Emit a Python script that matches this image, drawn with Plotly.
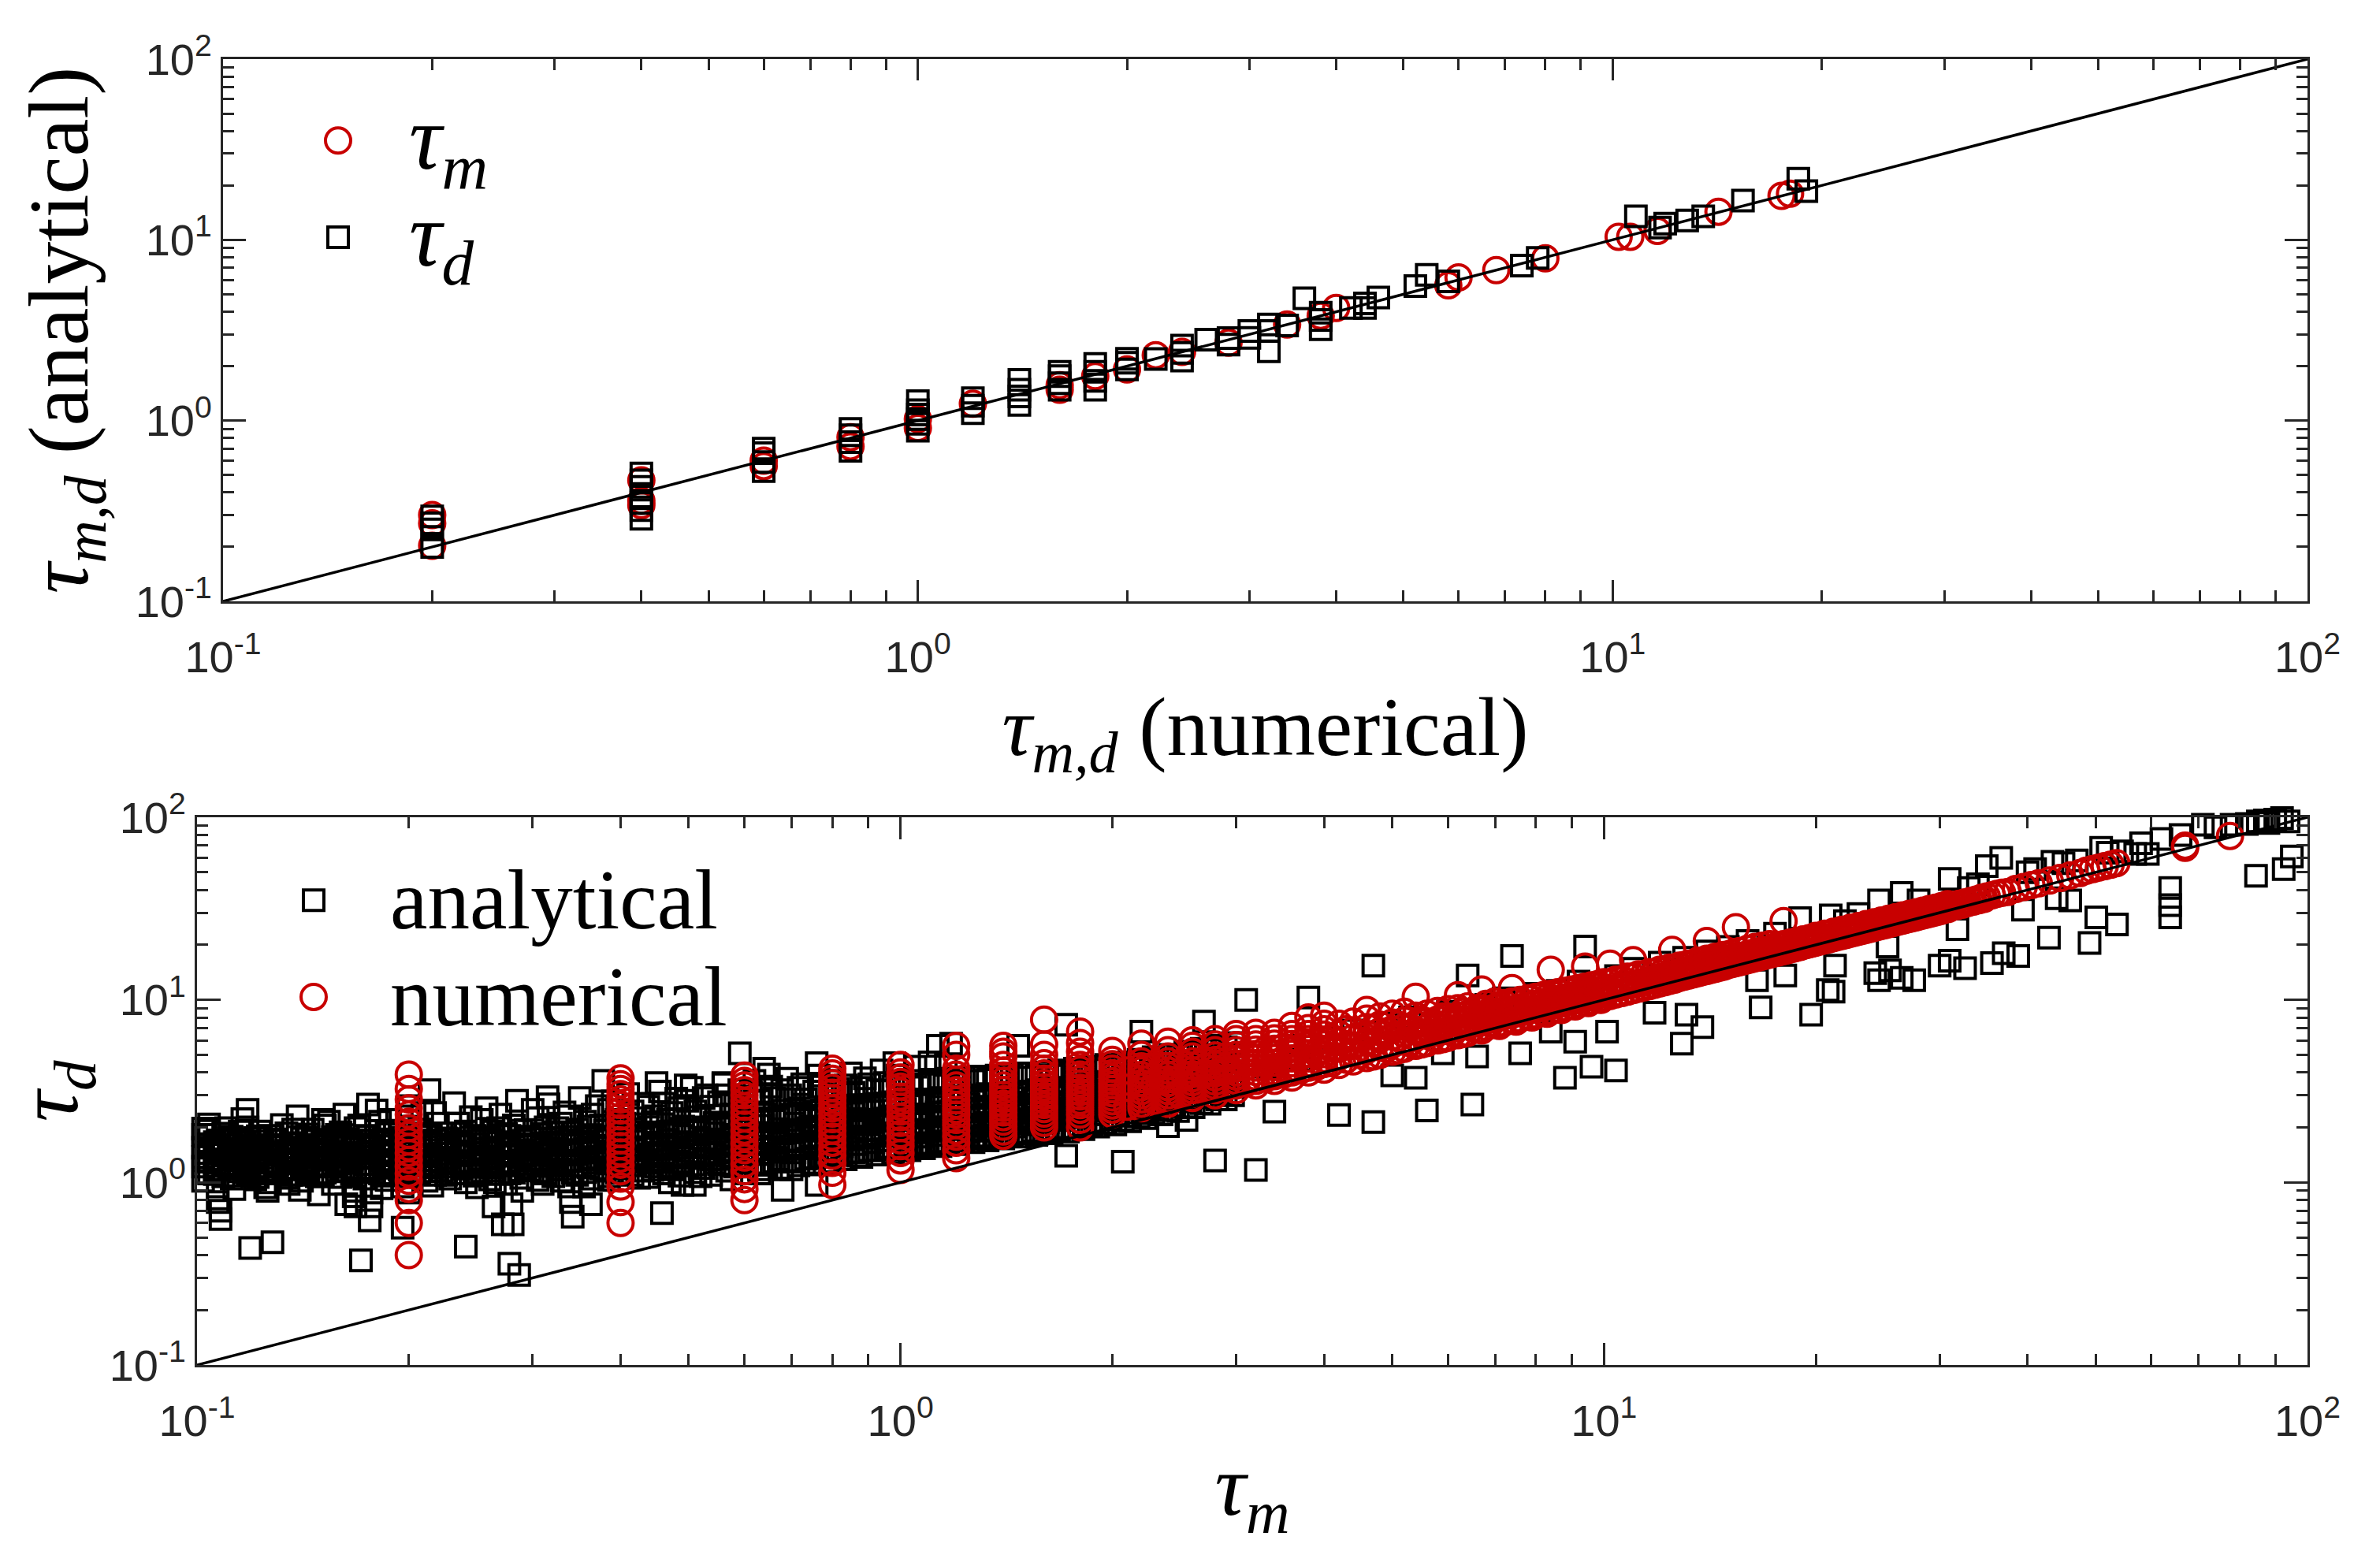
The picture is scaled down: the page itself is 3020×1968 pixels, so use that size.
import plotly.graph_objects as go

W, H = 3020, 1968
RED = "#C80000"
INK = "#262626"

major_ticks = [0.1, 1, 10, 100]
major_text = ["10<sup>-1</sup>", "10<sup>0</sup>", "10<sup>1</sup>", "10<sup>2</sup>"]
minor_ticks = [0.2, 0.3, 0.4, 0.5, 0.6, 0.7, 0.8, 0.9, 2, 3, 4, 5, 6, 7, 8, 9,
               20, 30, 40, 50, 60, 70, 80, 90]
diag = [0.1, 100]

# ---- top panel ----
top_m_x = [0.2, 0.2, 0.2, 0.4, 0.4, 0.4, 0.6, 0.6, 0.8, 0.8, 1, 1, 1.2, 1.6, 1.6, 1.8, 2, 2.2, 2.4, 2.8,
           3.4, 3.8, 4, 5.8, 6, 6.8, 8, 10.2, 10.6, 11.6, 14.2, 17.5, 18]
top_m_y = [0.3, 0.27, 0.203, 0.467, 0.36, 0.34, 0.6, 0.56, 0.81, 0.72, 0.91, 1.02, 1.24, 1.57, 1.48, 1.76, 1.92, 2.3, 2.4, 2.7,
           3.4, 3.8, 4.2, 5.6, 6.2, 6.8, 7.9, 10.4, 10.4, 11.2, 14.3, 17.5, 18]
top_d_x = [0.2, 0.2, 0.2, 0.2, 0.4, 0.4, 0.4, 0.4, 0.4, 0.4, 0.4, 0.6, 0.6, 0.6, 0.6, 0.8, 0.8, 0.8, 0.8,
           1, 1, 1, 1, 1, 1, 1.2, 1.2, 1.2, 1.4, 1.4, 1.4, 1.4, 1.6, 1.6, 1.6, 1.6, 1.8, 1.8, 1.8, 1.8,
           2, 2, 2, 2.2, 2.4, 2.4, 2.4, 2.6, 2.8, 2.8, 3, 3, 3.2, 3.2, 3.2, 3.4, 3.6, 3.8, 3.8, 3.8,
           4.2, 4.4, 4.4, 4.6, 5.2, 5.4, 5.8, 7.4, 7.8, 10.8, 11.7, 11.9, 12.8, 13.5, 15.4, 18.5, 19]
top_d_y = [0.295, 0.27, 0.25, 0.2, 0.51, 0.467, 0.43, 0.38, 0.35, 0.32, 0.286, 0.7, 0.66, 0.59, 0.525, 0.9, 0.83, 0.76, 0.68,
           1.28, 1.14, 1.08, 1.02, 0.96, 0.88, 1.33, 1.21, 1.1, 1.68, 1.48, 1.36, 1.22, 1.86, 1.76, 1.61, 1.48, 2.06, 1.86, 1.66, 1.48,
           2.2, 2.09, 1.92, 2.19, 2.6, 2.37, 2.15, 2.8, 2.86, 2.63, 3.13, 2.87, 3.4, 2.42, 3.13, 3.36, 4.75, 3.95, 3.6, 3.2,
           4.2, 4.45, 4.2, 4.8, 5.55, 6.4, 5.9, 7.2, 7.95, 13.5, 11.7, 12.3, 12.8, 13.5, 16.5, 21.8, 18.6]

# ---- bottom panel: analytical squares, dense band read column by column ----
band_x = [.102,.104,.107,.109,.112,.115,.118,.121,.124,.127,.130,.134,.137,.141,.144,.148,.152,.156,.160,.164,.168,.173,.177,.182,.186,.191,.196,.201,.207,.212,.218,.223,.229,.235,.241,.248,.254,.261,.268,.275,.282,.289,.297,.305,.313,.321,.329,.338,.347,.356,.365,.375,.385,.395,.405,.416,.427,.438,.449,.461,.473,.485,.498,.511,.525,.538,.552,.567,.582,.597,.613,.629,.645,.662,.679,.697,.716,.734,.754,.773,.794,.815,.836,.858,.880,.903,.927,.951,.976,1.00,1.03,1.06,1.08,1.11,1.14,1.17,1.20,1.23,1.27,1.30,1.33,1.37,1.40,1.44,1.48,1.52,1.56,1.60,1.64,1.68,1.73,1.77,1.82,1.87,1.91,1.96,2.02,2.07,2.12,2.18,2.23,2.29,2.35,2.42,2.48,2.54,2.61,2.68,2.75,2.82,2.90,2.97]
band_y = [
[1.02,1.22,1.38,1.55,1.82],[1.12,1.3,1.45,1.62,1.92],[.95,1.18,1.34,1.5,1.7],[1.08,1.26,1.42,1.6,1.85],[1.05,1.2,1.37,1.48,1.78],[1.15,1.32,1.5,1.66,1.9],
[1.1,1.24,1.4,1.58,2.0],[1.04,1.28,1.44,1.55,1.75],[1.12,1.22,1.36,1.52,1.68],[1.0,1.3,1.46,1.6,1.8],[1.14,1.26,1.41,1.57,1.72],[1.06,1.2,1.35,1.49,1.86],
[1.1,1.31,1.47,1.63,1.95],[1.02,1.25,1.39,1.54,1.74],[1.16,1.29,1.43,1.61,1.83],[1.08,1.22,1.37,1.52,1.69],[1.13,1.33,1.48,1.65,2.05],[.98,1.24,1.4,1.56,1.77],
[1.07,1.27,1.42,1.59,1.88],[1.15,1.3,1.45,1.62,1.73],[.9,1.21,1.36,1.53,1.98],[1.05,1.26,1.44,1.6,1.8],[.88,1.18,1.38,1.55,1.7],[1.12,1.32,1.49,1.66,2.15],
[1.03,1.23,1.41,1.58,1.84],[1.1,1.28,1.46,1.64,1.92],[.95,1.2,1.35,1.52,1.76],[1.08,1.3,1.47,1.67,2.3],[1.14,1.26,1.43,1.6,1.95],[1.02,1.24,1.39,1.56,1.78],
[1.1,1.33,1.5,1.7,2.4],[1.16,1.29,1.44,1.62,1.86],[1.05,1.22,1.37,1.54,1.73],[1.12,1.31,1.48,1.66,2.1],[1.0,1.27,1.42,1.58,1.9],[1.09,1.25,1.45,1.63,1.8],
[1.15,1.34,1.51,1.72,2.2],[1.04,1.21,1.38,1.55,1.75],[1.11,1.28,1.46,1.65,1.98],[.98,1.3,1.43,1.6,1.84],[1.13,1.24,1.4,1.57,2.05],[1.06,1.32,1.5,1.69,1.92],
[1.17,1.27,1.44,1.62,1.78],[1.03,1.23,1.41,1.59,2.25],[1.12,1.35,1.52,1.73,2.0],[1.08,1.29,1.47,1.66,1.88],[1.18,1.26,1.42,1.61,2.1],[.95,1.31,1.49,1.7,2.3],
[1.1,1.24,1.45,1.64,1.95],[1.14,1.33,1.53,1.75,2.15],[1.05,1.28,1.46,1.68,2.35],[1.19,1.36,1.55,1.78,2.05],[1.08,1.27,1.48,1.71,2.5],[1.13,1.32,1.52,1.74,2.2],
[1.2,1.38,1.58,1.82,2.1],[1.1,1.3,1.5,1.76,2.45],[1.16,1.35,1.56,1.8,2.25],[1.07,1.28,1.53,1.85,2.6],[1.22,1.4,1.6,1.88,2.3],[1.12,1.33,1.57,1.83,2.7],
[1.18,1.37,1.62,1.9,2.4],[1.09,1.3,1.55,1.86,2.55],[1.24,1.42,1.66,1.95,2.8],[1.14,1.36,1.6,1.92,2.45],[1.2,1.44,1.7,2.0,2.9],[1.1,1.34,1.58,1.96,2.6],
[1.26,1.46,1.72,2.05,2.75],[1.16,1.4,1.65,2.0,3.0],[1.22,1.48,1.76,2.1,2.65],[1.12,1.38,1.68,2.06,2.95],[1.28,1.5,1.8,2.15,3.1],[1.18,1.43,1.74,2.2,2.8],
[1.25,1.52,1.84,2.25,3.05],[1.3,1.56,1.78,2.18,2.9],[1.2,1.47,1.86,2.3,3.2],[1.32,1.58,1.9,2.35,3.0],[1.24,1.54,1.94,2.4,3.3],[1.35,1.6,1.98,2.28,2.85],
[1.28,1.62,1.92,2.45,3.15],[1.38,1.66,2.0,2.5,3.35],[1.3,1.7,2.05,2.4,3.0],[1.42,1.68,2.1,2.55,3.25],[1.34,1.74,2.02,2.6,3.4],[1.46,1.72,2.12,2.48,3.1],
[1.38,1.78,2.16,2.65,3.3],[1.5,1.76,2.08,2.58,3.45],[1.42,1.82,2.2,2.7,3.2],[1.52,1.8,2.24,2.62,3.5],[1.46,1.86,2.18,2.75,3.35],[1.55,1.84,2.28,2.68,3.55],
[1.5,1.9,2.32,2.8,3.4],[1.58,1.88,2.26,2.72,3.6],[1.54,1.94,2.36,2.85,3.45],[1.62,1.92,2.3,2.78,3.65],[1.58,1.98,2.4,2.9,3.5],[1.66,1.96,2.44,2.82,3.7],
[1.62,2.02,2.38,2.95,3.55],[1.7,2.0,2.48,2.88,3.75],[1.66,2.06,2.52,3.0,3.6],[1.74,2.04,2.46,2.92,3.8],[1.7,2.1,2.56,3.05,3.65],[1.78,2.08,2.5,2.98,3.85],
[1.74,2.14,2.6,3.1,3.7],[1.82,2.12,2.54,3.02,3.9],[1.78,2.18,2.64,3.15,3.75],[1.86,2.16,2.58,3.08,3.95],[1.82,2.22,2.68,3.2,3.8],[1.9,2.2,2.62,3.12,4.0],
[1.86,2.26,2.72,3.25,3.85],[1.94,2.3,2.76,3.3,4.1],[1.9,2.34,2.7,3.22,3.95],[2.0,2.38,2.8,3.35,4.2],[1.96,2.42,2.86,3.4,4.05],[2.05,2.46,2.92,3.45,4.3],
[2.02,2.5,2.98,3.5,4.15],[2.12,2.55,3.02,3.55,4.4],[2.08,2.6,3.08,3.62,4.25],[2.2,2.64,3.14,3.7,4.55],[2.16,2.7,3.2,3.76,4.4],[2.3,2.76,3.26,3.84,4.7],
[2.25,2.82,3.34,3.92,4.55],[2.4,2.88,3.4,4.0,4.85],[2.36,2.95,3.48,4.1,4.7],[2.5,3.02,3.55,4.2,5.0],[2.46,3.1,3.62,4.3,4.9],[2.6,3.16,3.7,4.4,5.2],
[2.58,3.24,3.8,4.5,5.1],[2.72,3.3,3.9,4.6,5.4],[2.7,3.4,4.0,4.72,5.3],[2.85,3.48,4.1,4.85,5.6],[2.85,3.56,4.2,4.95,5.5],[3.0,3.65,4.3,5.05,5.8],
]
# second pass through the same band, filling the black core
core_x = [.106,.111,.117,.122,.129,.136,.143,.151,.158,.166,.175,.184,.194,.204,.215,.226,.238,.251,.264,.278,.293,.309,.325,.342,.36,.38,.4,.42,.444,.467,.491,.518,.544,.574,.605,.638,.671,.707,.744,.784,.826,.869,.915,.965,1.015,1.07,1.125,1.185,1.25,1.315,1.385,1.46,1.54,1.62,1.705,1.795,1.89,1.99,2.1,2.21,2.32,2.45,2.58,2.72,2.86]
core_y = [
[1.11,1.16,1.28,1.44,1.58,1.66],[1.09,1.24,1.33,1.47,1.53,1.74],[1.14,1.19,1.31,1.39,1.56,1.67],[1.07,1.21,1.35,1.42,1.51,1.79],[1.17,1.23,1.29,1.46,1.59,1.7],[1.1,1.27,1.34,1.41,1.55,1.64],
[1.13,1.18,1.32,1.45,1.57,1.76],[1.08,1.25,1.36,1.43,1.5,1.71],[1.16,1.22,1.3,1.47,1.61,1.82],[1.11,1.28,1.33,1.4,1.54,1.68],[1.14,1.2,1.37,1.48,1.63,1.78],[1.09,1.26,1.31,1.44,1.58,1.72],
[1.18,1.24,1.34,1.46,1.6,1.87],[1.12,1.29,1.38,1.49,1.55,1.69],[1.15,1.21,1.32,1.42,1.65,1.8],[1.1,1.27,1.36,1.51,1.59,1.74],[1.19,1.23,1.41,1.47,1.68,1.85],[1.13,1.3,1.35,1.53,1.62,1.77],
[1.16,1.25,1.39,1.48,1.7,1.9],[1.12,1.28,1.43,1.54,1.66,1.8],[1.2,1.34,1.4,1.58,1.72,1.94],[1.15,1.29,1.46,1.56,1.64,1.84],[1.18,1.24,1.37,1.52,1.75,1.98],[1.13,1.31,1.44,1.6,1.7,1.88],
[1.21,1.36,1.5,1.62,1.78,2.02],[1.16,1.3,1.42,1.57,1.73,1.92],[1.19,1.34,1.47,1.65,1.82,2.08],[1.24,1.38,1.52,1.68,1.76,1.96],[1.17,1.32,1.45,1.6,1.85,2.14],[1.22,1.4,1.55,1.71,1.9,2.2],
[1.26,1.37,1.49,1.64,1.8,2.02],[1.2,1.42,1.58,1.74,1.93,2.28],[1.28,1.44,1.54,1.67,1.86,2.12],[1.24,1.39,1.62,1.78,1.98,2.36],[1.31,1.47,1.6,1.72,1.91,2.18],[1.27,1.43,1.66,1.82,2.04,2.42],
[1.34,1.5,1.64,1.76,1.96,2.24],[1.3,1.46,1.7,1.88,2.1,2.5],[1.37,1.54,1.68,1.8,2.02,2.32],[1.4,1.52,1.74,1.92,2.16,2.56],[1.44,1.58,1.72,1.86,2.08,2.38],[1.47,1.62,1.78,1.98,2.22,2.64],
[1.5,1.66,1.82,1.94,2.14,2.44],[1.56,1.7,1.86,2.04,2.3,2.7],[1.6,1.74,1.9,2.0,2.2,2.52],[1.64,1.78,1.94,2.1,2.36,2.76],[1.68,1.82,1.98,2.16,2.42,2.6],[1.72,1.86,2.02,2.22,2.48,2.84],
[1.76,1.9,2.06,2.28,2.54,2.68],[1.8,1.94,2.12,2.34,2.6,2.9],[1.84,1.98,2.18,2.4,2.66,2.96],[1.88,2.02,2.22,2.46,2.74,3.04],[1.92,2.08,2.28,2.52,2.8,3.1],[1.96,2.14,2.34,2.58,2.86,3.18],
[2.0,2.2,2.42,2.66,2.94,3.26],[2.06,2.28,2.5,2.74,3.0,3.34],[2.14,2.36,2.58,2.82,3.1,3.42],[2.22,2.44,2.66,2.9,3.2,3.52],[2.32,2.52,2.74,3.0,3.3,3.64],[2.42,2.62,2.84,3.12,3.42,3.76],
[2.52,2.72,2.96,3.24,3.56,3.9],[2.64,2.84,3.08,3.38,3.7,4.06],[2.78,2.98,3.22,3.52,3.84,4.22],[2.92,3.12,3.38,3.68,4.02,4.4],[3.06,3.28,3.54,3.84,4.2,4.6],
]
# individual squares off the band
off_x = [.119,.128,.171,.241,.278,.287,.196,.176,.108,.108,.107,.458,.272,.281,.264,.28,.342,.34,.363,.49,.51,.68,.76,.163,.168,.177,.14,.125,
         .591,.64,.76,.98,.378,.315,.214,.118,.102,.175,.151,.45,.495,.56,.65,1.13,1.18,1.47,1.72,2.07,2.8,3.2,3.4,4.2,4.7,5.6,6.5,
         2.4,2.55,5,5.4,5.9,6.6,7.6,8.8,9.6,10.4,8.4,9.1,10.1,11.8,12.9,13.1,13.8,16.5,16.7,18.1,19.7,20.8,21.2,21.3,24.3,24.6,25.5,26.5,27.6,
         30,31,32.6,35.6,37,38.8,42.9,44,46,49,50.1,53.6,63.8,63.8,63.8,84.5,92.5,95,
         2.2,2.7,1.72,3.1,3.8,4.7,6.4,7.4,9.4,19,21,24.6,26.5,31,31.8,25.3,35,36.7,39.4,43.4,50.9,54.5,56.9,59.3,71,78,
         3.4,3.6,4,4.4,4.9,5.3,6,6.8,7.2,8,8.6,9.2,10.4,11,12,13,14,15,16,17.5,22,23,28,33,34,40,41,45,47,52,58,62,66,74,82,85,87,88,90,92,94]
off_y = [.437,.47,.374,.445,.359,.311,.565,.62,.63,.7,.78,.68,.59,.59,.74,.76,.65,.78,.76,.97,.97,.91,.97,.76,.74,.74,.91,.94,
         5.1,4.2,4.5,4.5,3.6,2.93,3.2,2.5,1.97,2.67,2.2,3.5,3.4,3.5,3.9,5.6,5.75,5.6,1.4,1.3,1.32,1.17,2.44,2.34,2.14,2.48,2.67,
         2.03,2.2,3.86,3.74,5.1,4.9,5.1,3.74,4.3,4.1,6.7,5.9,6.7,8.5,5.75,8.3,7.1,12.8,9.1,13.6,8.3,11.3,11.1,15.4,14,12.8,14.5,13.2,12.8,
         15.4,16.4,14.9,15.9,18,17.4,21.9,36,35,20.5,28.3,25.9,41,33,28.3,47.8,52,61,
         6.7,7.6,7.3,10,10.3,15.4,13.6,17.4,19.6,28,29,35,38.5,46,24.4,19.6,54,60,31.2,57,68,65,63,63,91,91,
         5.2,5.6,6.2,6.8,7.4,8.0,8.6,9.4,10.2,10.8,11.2,12.6,13.5,14.8,16,17,18.4,19.5,21,23,27,29.5,35,41,43,50,52,56,58,64,72,76,80,88,92,95,96,93,97,99,95]
# squares scattered along the upper and lower edges of the band
edge_x = [.104,.11,.116,.123,.132,.139,.146,.154,.162,.17,.18,.188,.2,.209,.22,.232,.245,.258,.27,.285,.3,.316,.333,.35,.37,.39,.41,.43,.455,.48,.505,.53,.56,.59,.62,.655,.69,.725,.765,.805,.85,.89,.94,.99,1.05,1.1,1.16,
          .113,.126,.135,.149,.167,.183,.2,.216,.25,.265,.29,.31,.33,.355,.385,.425,.47,.52,.575,.63,.7,.78,.87,.96,1.09,1.22,1.35,1.5,1.7,1.92,2.15,2.4,2.65,2.95,3.3,3.7,4.1,4.5]
edge_y = [2.08,1.98,2.22,1.9,2.06,2.3,1.95,2.15,2.35,2.05,2.48,2.2,2.62,2.4,2.1,2.72,2.28,2.55,2.35,2.8,2.5,2.68,2.42,2.9,2.62,2.78,3.05,2.7,3.15,2.88,3.3,3.0,3.45,3.2,3.6,3.35,3.7,3.45,3.85,3.6,3.95,3.72,4.1,3.85,4.3,4.55,4.4,
          .92,.9,.98,.86,.84,.93,.88,.96,.94,1.0,.9,.98,1.02,.95,1.03,1.06,1.0,1.08,1.04,1.12,1.18,1.26,1.4,1.52,1.62,1.78,1.92,2.1,2.3,2.55,2.8,3.1,3.45,3.9,4.3,4.7]

# ---- bottom panel: numerical circles, columns at the sampled tau_m values ----
num_col_x = [.2,.4,.6,.8,1.0,1.2,1.4,1.6,1.8,2.0,2.2,2.4,2.6,2.8,3.0,3.2,3.4,3.6,3.8,4.0]
num_col_y = [
[.40,.60,.80,.92,1.02,1.12,1.22,1.33,1.45,1.56,1.68,1.82,1.98,2.15,2.35,2.55,2.85,3.25,3.9],
[.60,.78,.95,1.05,1.15,1.25,1.35,1.46,1.58,1.7,1.84,1.98,2.14,2.3,2.48,2.66,2.85,3.05,3.25,3.45,3.72],
[.80,.92,1.04,1.15,1.26,1.37,1.5,1.63,1.77,1.92,2.08,2.25,2.42,2.6,2.8,3.0,3.2,3.4,3.6,3.85],
[.97,1.13,1.28,1.4,1.52,1.65,1.78,1.92,2.06,2.22,2.38,2.55,2.72,2.9,3.1,3.3,3.5,3.7,3.95,4.2],
[1.17,1.32,1.45,1.58,1.7,1.84,1.98,2.12,2.28,2.44,2.6,2.78,2.95,3.15,3.35,3.55,3.75,4.0,4.4],
[1.36,1.5,1.65,1.78,1.92,2.06,2.2,2.35,2.5,2.66,2.82,3.0,3.2,3.4,3.65,3.9,4.2,5.0,5.6],
[1.8,1.9,2.02,2.15,2.28,2.42,2.56,2.7,2.86,3.02,3.2,3.4,3.6,3.85,4.1,4.4,4.9,5.2,5.6],
[2.0,2.12,2.25,2.38,2.52,2.66,2.82,2.98,3.15,3.32,3.5,3.7,3.95,4.2,4.5,5.0,5.7,7.8],
[2.0,2.2,2.35,2.5,2.65,2.8,2.96,3.12,3.3,3.48,3.68,3.9,4.15,4.4,4.75,5.2,5.8,6.7],
[2.36,2.5,2.64,2.78,2.92,3.08,3.24,3.4,3.58,3.76,3.96,4.2,4.45,4.7,5.25],
[2.55,2.7,2.85,3.0,3.16,3.32,3.5,3.68,3.88,4.1,4.32,4.6,5.0,5.75],
[2.7,2.85,3.0,3.16,3.32,3.5,3.68,3.88,4.1,4.34,4.6,4.9,5.3,5.9],
[2.9,3.05,3.2,3.36,3.54,3.72,3.92,4.12,4.36,4.6,4.9,5.2,5.6,6.0],
[3.0,3.2,3.38,3.56,3.76,3.96,4.18,4.42,4.68,4.96,5.3,5.7,6.1],
[3.2,3.4,3.6,3.8,4.0,4.22,4.46,4.72,5.0,5.3,5.65,6.1,6.5],
[3.4,3.6,3.8,4.02,4.26,4.5,4.76,5.04,5.34,5.7,6.1,6.6],
[3.6,3.82,4.05,4.28,4.52,4.8,5.08,5.4,5.75,6.15,6.6],
[3.75,4.0,4.25,4.5,4.78,5.06,5.38,5.72,6.1,6.5,7.2],
[4.0,4.25,4.5,4.78,5.06,5.38,5.72,6.1,6.5,7.0,8.0],
[4.15,4.45,4.75,5.05,5.35,5.7,6.05,6.45,6.9,7.4,8.2],
]
num_run_x = [4.2,4.2,4.2,4.2,4.2,4.2,4.4,4.4,4.4,4.4,4.4,4.4,4.6,4.6,4.6,4.6,4.6,4.6,4.8,4.8,4.8,4.8,4.8,4.8,5,5,5,5,5,5,5.2,5.2,5.2,5.2,5.2,5.2,5.4,5.4,5.4,5.4,5.4,
             5.6,5.6,5.6,5.6,5.6,5.8,5.8,5.8,5.8,5.8,6,6,6,6,6,6.2,6.2,6.2,6.2,6.2,6.4,6.4,6.4,6.4,6.4,6.6,6.6,6.6,6.6,6.8,6.8,6.8,6.8,6.8,7,7,7,7,7,7.2,7.2,7.2,7.2,7.4,7.4,7.4,7.4,7.6,7.6,7.6,7.6,
             7.8,7.8,7.8,7.8,8,8,8,8,8.2,8.2,8.2,8.2,8.4,8.4,8.4,8.4,8.6,8.6,8.6,8.6,8.8,8.8,8.8,8.8,9,9,9,9,9.2,9.2,9.2,9.2,9.4,9.4,9.4,9.4,9.6,9.6,9.6,9.6,9.8,9.8,9.8,9.8,10,10,10,10,
             10.4,10.4,10.4,10.8,10.8,10.8,11.2,11.2,11.2,11.6,11.6,11.6,12,12,12,12.4,12.4,12.4,12.8,12.8,12.8,13.2,13.2,13.2,13.6,13.6,13.6,14,14,14,14.4,14.4,14.4,14.8,14.8,14.8,15.2,15.2,15.2,15.6,15.6,15.6,16,16,16,16.4,16.4,16.4,16.8,16.8,16.8,17.2,17.2,17.2,17.6,17.6,18,18,18.4,18.4,18.8,18.8,19.2,19.2,19.6,19.6,20,20,
             20.6,20.6,21.2,21.2,21.8,21.8,22.4,22.4,23,23,23.6,23.6,24.2,24.2,24.8,24.8,25.4,25.4,26,26,26.6,26.6,27.2,27.2,27.8,27.8,28.4,28.4,29,29,29.6,29.6,30.2,30.2,30.8,30.8,31.4,32,32.6,33.2,33.8,34.4,35,35.6,36.2,36.8,
             8.4,9.4,7.4,5.4,4.6,6.2,6.7,15.4,12.5,11,10.2,14,18,
             37.5,38.5,39.5,40.5,41.5,43,44.5,46,47.5,48.5,49.5,50.5,51.5,52.5,53.5,67,67,77.6]
num_run_y = [4.4,4.9,5.4,5.9,6.5,7.4,4.6,5.1,5.6,6.2,6.8,7.6,4.8,5.3,5.9,6.5,7.1,7.9,5.0,5.5,6.1,6.7,7.3,8.1,5.2,5.7,6.3,6.9,7.5,8.4,5.4,5.9,6.5,7.1,7.7,8.6,5.6,6.2,6.8,7.4,8.2,
             5.8,6.4,7,7.6,8.4,6,6.6,7.2,7.8,8.7,6.2,6.8,7.4,8,8.9,6.4,7,7.6,8.2,9,6.6,7.2,7.8,8.4,9.2,6.9,7.5,8.1,9,7.1,7.7,8.3,8.9,9.5,7.3,7.9,8.5,9.1,9.8,7.5,8.1,8.7,9.6,7.7,8.3,8.9,9.8,7.9,8.5,9.1,10,
             8.1,8.7,9.3,10.2,8.3,8.9,9.5,10.4,8.5,9.1,9.7,10.6,8.7,9.3,9.9,10.8,8.9,9.5,10.1,11,9.1,9.7,10.3,11.2,9.3,9.9,10.5,11.4,9.5,10.1,10.7,11.6,9.7,10.3,10.9,11.8,9.9,10.5,11.1,12,10.1,10.7,11.3,12.2,10.3,10.9,11.5,12.5,
             10.7,11.6,12.9,11.1,12,13.4,11.5,12.4,13.8,11.9,12.8,14.2,12.3,13.3,14.6,12.7,13.7,15,13.2,14.1,15.4,13.6,14.5,15.8,14,15,16.4,14.4,15.4,16.8,14.8,15.8,17.2,15.2,16.2,17.6,15.7,16.7,18,16.1,17.1,18.5,16.5,17.5,19,16.9,17.9,19.5,17.3,18.3,19.8,17.7,18.7,20.2,18.1,19.8,18.5,20.2,18.9,20.6,19.3,21,19.8,21.4,20.2,21.8,20.6,22.4,
             21.2,23,21.8,23.6,22.4,24.2,23,24.8,23.6,25.4,24.2,26,24.8,26.6,25.4,27.2,26,27.8,26.6,28.4,27.2,29,27.8,29.6,28.4,30.2,29,30.8,29.6,31.4,30.2,32,30.8,32.6,31.4,33.4,33,33.6,34.2,34.8,35.4,36.2,36.8,37.4,38,38.6,
             14.6,15.2,11.6,10.4,8.8,10.6,11.4,25,18.8,16.5,15.8,21,27,
             39,40.5,41.5,42.5,43.5,45,46.5,48,49.5,51,52,53,54,55,56,68,70,79]
# extra circles thickening the red band between tau_m = 4 and 35
fill_x = [4.3,4.3,4.3,4.7,4.7,4.7,5.1,5.1,5.1,5.5,5.5,5.5,5.9,5.9,5.9,6.3,6.3,6.3,6.7,6.7,6.7,7.1,7.1,7.1,7.5,7.5,7.5,7.9,7.9,7.9,8.3,8.3,8.3,8.7,8.7,8.7,9.1,9.1,9.1,9.5,9.5,9.5,9.9,9.9,9.9,
          10.2,10.2,10.2,10.6,10.6,10.6,11,11,11,11.4,11.4,11.4,11.8,11.8,11.8,12.2,12.2,12.2,12.6,12.6,12.6,13,13,13,13.4,13.4,13.4,13.8,13.8,13.8,14.2,14.2,14.2,14.6,14.6,14.6,15,15,15,15.4,15.4,15.8,15.8,16.2,16.2,16.6,16.6,17,17,17.4,17.4,17.8,17.8,18.2,18.2,18.6,18.6,19,19,19.4,19.4,19.8,19.8,
          20.3,20.3,20.9,20.9,21.5,21.5,22.1,22.1,22.7,22.7,23.3,23.3,23.9,23.9,24.5,24.5,25.1,25.1,25.7,25.7,26.3,26.3,26.9,26.9,27.5,27.5,28.1,28.1,28.7,28.7,29.3,29.3,29.9,29.9,30.5,31.1,31.7,32.3,32.9,33.5,34.1,34.7,
          2.1,2.1,2.1,2.3,2.3,2.3,2.5,2.5,2.5,2.7,2.7,2.7,2.9,2.9,2.9,3.1,3.1,3.1,3.3,3.3,3.3,3.5,3.5,3.5,3.7,3.7,3.7,3.9,3.9,3.9,4.1,4.1,4.1,4.5,4.5,4.9,4.9,5.3,5.3,5.7,5.7,6.1,6.1,6.5,6.5,6.9,6.9]
fill_y = [4.7,5.7,6.9,4.9,5.8,7,5.3,6.2,7.3,5.7,6.6,7.8,6.1,7,8.1,6.5,7.4,8.6,6.8,7.9,9,7.2,8.2,9.3,7.6,8.6,9.8,8,8.9,10.1,8.4,9.3,10.3,8.8,9.7,10.8,9.2,10.1,11.1,9.6,10.5,11.5,10,10.9,11.9,
          10.5,11.4,12.5,10.9,11.8,13,11.3,12.2,13.4,11.7,12.6,13.8,12.1,13,14.2,12.5,13.5,14.6,12.9,13.9,15,13.4,14.3,15.5,13.8,14.8,15.9,14.2,15.2,16.4,14.6,15.6,16.8,15,16,17.3,15.5,16.5,17.7,15.9,17.1,16.3,17.5,16.7,18,17.1,18.4,17.5,18.8,17.9,19.2,18.3,19.7,18.7,20.1,19.1,20.5,19.5,21,20,21.4,20.4,21.8,
          20.9,22.3,21.5,22.9,22.1,23.5,22.7,24.1,23.3,24.7,23.9,25.3,24.5,25.9,25.1,26.5,25.7,27.1,26.3,27.7,26.9,28.3,27.5,28.9,28.1,29.5,28.7,30.1,29.3,30.7,29.9,31.3,30.5,31.9,31.4,32,32.6,33.2,33.9,34.5,35.1,35.7,
          2.6,3.3,4.1,2.8,3.5,4.3,3,3.7,4.5,3.2,3.9,4.7,3.3,4.1,4.9,3.5,4.3,5.1,3.7,4.5,5.3,3.9,4.7,5.5,4.1,4.9,5.8,4.3,5.1,6,4.5,5.4,6.2,5,6.3,5.4,6.7,5.8,7.1,6.2,7.5,6.6,7.9,7,8.3,7.4,8.7]

num_x = [x for x, col in zip(num_col_x, num_col_y) for _ in col] + num_run_x + fill_x
num_y = [v for col in num_col_y for v in col] + num_run_y + fill_y
ana_x = ([x for x, col in zip(band_x, band_y) for _ in col]
         + [x for x, col in zip(core_x, core_y) for _ in col] + off_x + edge_x)
ana_y = [v for col in band_y for v in col] + [v for col in core_y for v in col] + off_y + edge_y


def circles(x, y, name, lg):
    return go.Scatter(x=x, y=y, mode="markers", name=name, legend=lg, cliponaxis=False,
                      marker=dict(symbol="circle-open", size=32, color=RED, line=dict(color=RED, width=4)))


def squares(x, y, name, lg):
    return go.Scatter(x=x, y=y, mode="markers", name=name, legend=lg, cliponaxis=False,
                      marker=dict(symbol="square-open", size=26, color="black", line=dict(color="black", width=4)))


def ref_line():
    return go.Scatter(x=diag, y=diag, mode="lines", showlegend=False,
                      line=dict(color="black", width=3.5))


def big(text, px):
    return f'<span style="font-size:{px}px">{text}</span>'


fig = go.Figure()
fig.add_trace(circles(top_m_x, top_m_y, big("<i>τ</i><sub><i>m</i></sub>", 116), "legend"))
fig.add_trace(squares(top_d_x, top_d_y, big("<i>τ</i><sub><i>d</i></sub>", 116), "legend"))
fig.add_trace(ref_line())
fig.add_trace(squares(ana_x, ana_y, big("analytical", 107), "legend2"))
fig.add_trace(circles(num_x, num_y, big("numerical", 107), "legend2"))
t = ref_line(); t.update(xaxis="x2", yaxis="y2")
fig.add_trace(t)
fig.data[3].update(xaxis="x2", yaxis="y2")
fig.data[4].update(xaxis="x2", yaxis="y2")


def axis(domain, anchor, title, standoff, ticklen, lstand=0, tsize=106):
    return dict(type="log", range=[-1, 2], domain=domain, anchor=anchor, automargin=False,
                showgrid=False, zeroline=False, showline=True, linecolor=INK, linewidth=3,
                mirror="allticks", ticks="inside", ticklen=ticklen, tickwidth=3, tickcolor=INK,
                tickmode="array", tickvals=major_ticks, ticktext=major_text,
                tickfont=dict(family="Liberation Sans", size=56, color=INK),
                ticklabelstandoff=lstand,
                minor=dict(ticks="inside", ticklen=14, tickwidth=3, tickcolor=INK,
                           tickmode="array", tickvals=minor_ticks, showgrid=False),
                title=dict(text=title, standoff=standoff,
                           font=dict(family="Liberation Serif", size=tsize, color="black")))


fig.update_layout(
    width=W, height=H, autosize=False, paper_bgcolor="white", plot_bgcolor="white",
    margin=dict(l=0, r=0, t=0, b=0), showlegend=True,
    xaxis=axis([283 / W, 2928 / W], "y", "<i>τ</i><sub><i>m,d</i></sub> (numerical)", 20, 27, 20),
    yaxis=axis([1 - 763 / H, 1 - 75 / H], "x", "<i>τ</i><sub><i>m,d</i></sub> (analytical)", 24, 29, 0, 108),
    xaxis2=axis([250 / W, 2928 / W], "y2", "<i>τ</i><sub><i>m</i></sub>", 12, 28, 20, 110),
    yaxis2=axis([1 - 1732 / H, 1 - 1037 / H], "x2", "<i>τ</i><sub><i>d</i></sub>", 48, 30, 0, 110),
    legend=dict(x=339 / W, y=1 - 112 / H, xanchor="left", yanchor="top", bgcolor="rgba(0,0,0,0)",
                itemwidth=170, font=dict(family="Liberation Serif", size=92, color="black")),
    legend2=dict(x=301 / W, y=1 - 1076 / H, xanchor="left", yanchor="top", bgcolor="rgba(0,0,0,0)",
                 itemwidth=184, font=dict(family="Liberation Serif", size=92, color="black")),
)

# plotly caps legend symbols at 16 px; bring them up to the size of the plotted markers
post = """
var gd = document.getElementById('{plot_id}');
document.body.style.margin = '0';
function fixLegend() {
  document.querySelectorAll('.legendpoints path.scatterpts').forEach(function (p) {
    var isRed = (p.style.stroke || '').indexOf('200') >= 0;
    var s = isRed ? 32 / 16 : 26 / 16;
    var tr = (p.getAttribute('transform') || '').replace(/scale\\([^)]*\\)/, '');
    p.setAttribute('transform', tr + ' scale(' + s + ')');
    p.style.strokeWidth = (4 / s) + 'px';
  });
}
fixLegend();
if (gd && gd.on) { gd.on('plotly_afterplot', fixLegend); }
setTimeout(fixLegend, 200);
"""
fig.write_html("out.html", post_script=post, config={"displayModeBar": False})
